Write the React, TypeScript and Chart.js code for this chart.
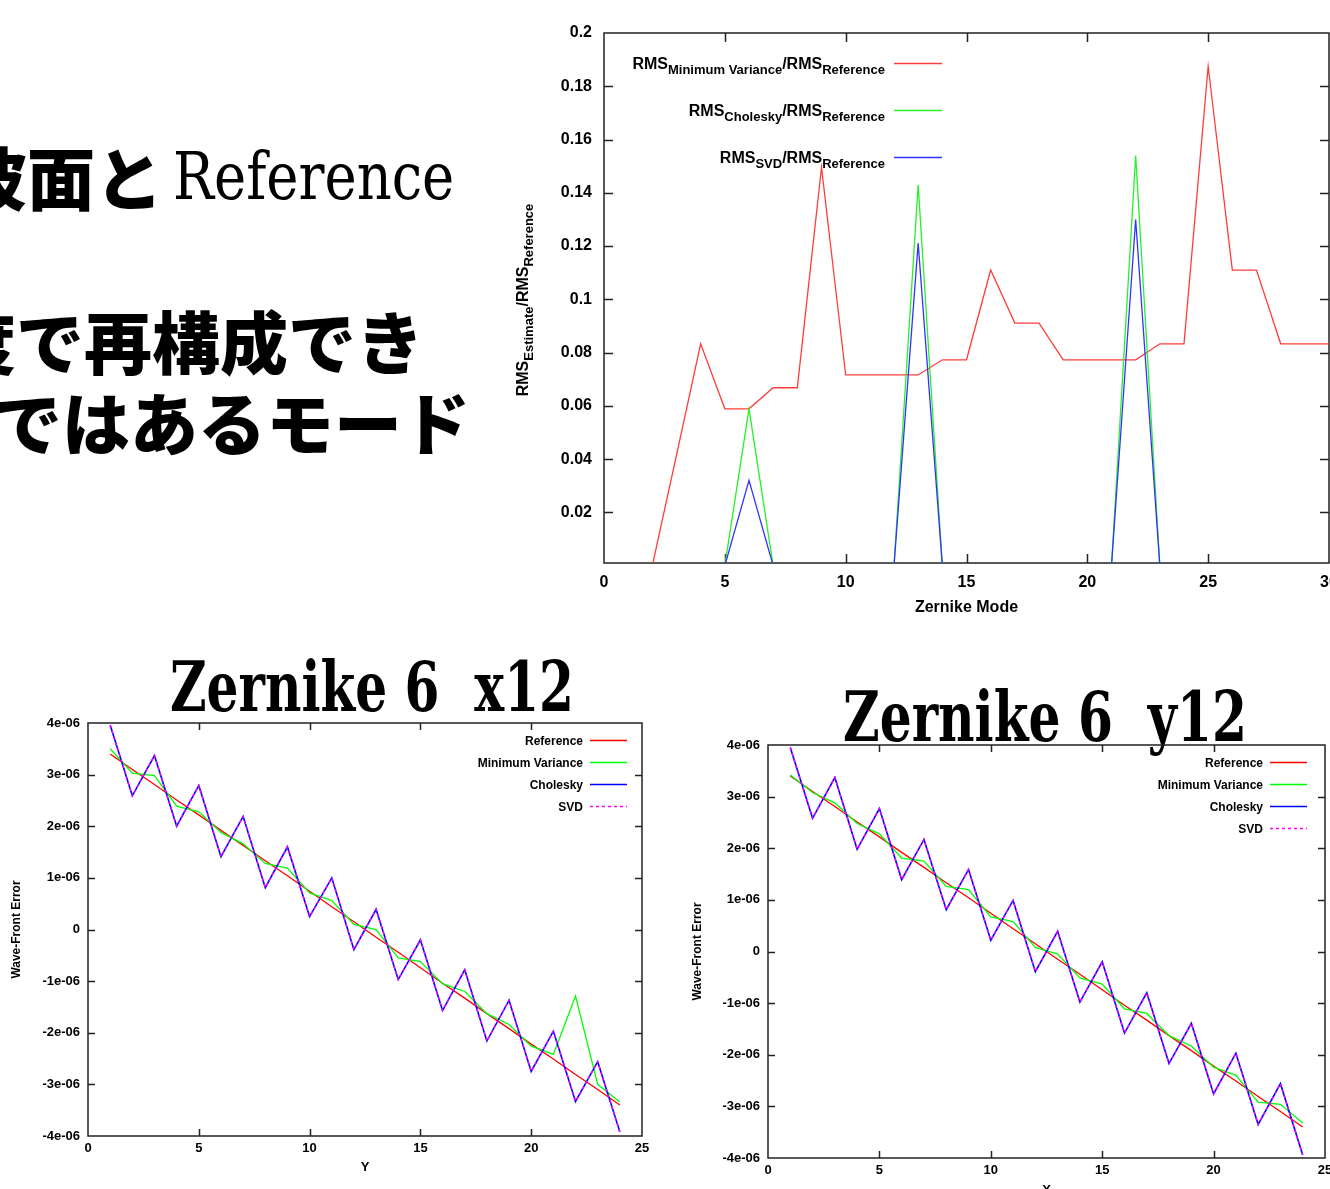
import React, { useEffect, useLayoutEffect, useRef } from 'react';
import { Chart, registerables } from 'chart.js';

Chart.register(...registerables);

// ---------------- DATA ----------------
// Top chart: RMS ratio vs Zernike mode
const zernikeModes = [1, 2, 3, 4, 5, 6, 7, 8, 9, 10, 11, 12, 13, 14, 15, 16, 17, 18, 19, 20, 21, 22, 23, 24, 25, 26, 27, 28, 29, 30];
const rmsMinimumVariance = [0, 0, 0.0415, 0.0833, 0.0589, 0.0589, 0.0668, 0.0668, 0.1496, 0.0716, 0.0716, 0.0716, 0.0716, 0.0773, 0.0773, 0.111, 0.0911, 0.0911, 0.0773, 0.0773, 0.0773, 0.0773, 0.0833, 0.0833, 0.1875, 0.111, 0.111, 0.0833, 0.0833, 0.0833];
const rmsCholesky = [0, 0, 0, 0, 0, 0.0589, 0, 0, 0, 0, 0, 0, 0.1429, 0, 0, 0, 0, 0, 0, 0, 0, 0.154, 0, 0, 0, 0, 0, 0, 0, 0];
const rmsSvd = [0, 0, 0, 0, 0, 0.032, 0, 0, 0, 0, 0, 0, 0.1211, 0, 0, 0, 0, 0, 0, 0, 0, 0.130, 0, 0, 0, 0, 0, 0, 0, 0];
const rmsXTicks = [0, 5, 10, 15, 20, 25, 30];
const rmsXTickLabels = ['0', '5', '10', '15', '20', '25', '30'];
const rmsYTicks = [0.02, 0.04, 0.06, 0.08, 0.1, 0.12, 0.14, 0.16, 0.18, 0.2];
const rmsYTickLabels = ['0.02', '0.04', '0.06', '0.08', '0.1', '0.12', '0.14', '0.16', '0.18', '0.2'];
const rmsSeriesLabels = ['RMS_{Minimum Variance}/RMS_{Reference}', 'RMS_{Cholesky}/RMS_{Reference}', 'RMS_{SVD}/RMS_{Reference}'];

// Bottom charts: wave-front error (values in units of 1e-6)
const MICRO = 1e-6;
const samplePositions = [1, 2, 3, 4, 5, 6, 7, 8, 9, 10, 11, 12, 13, 14, 15, 16, 17, 18, 19, 20, 21, 22, 23, 24];
const x12Reference = [3.40, 3.10, 2.81, 2.51, 2.22, 1.92, 1.63, 1.33, 1.04, 0.74, 0.44, 0.15, -0.15, -0.44, -0.74, -1.04, -1.33, -1.63, -1.92, -2.22, -2.51, -2.81, -3.10, -3.40];
const x12MinimumVariance = [3.50, 3.03, 2.98, 2.39, 2.28, 1.88, 1.66, 1.28, 1.19, 0.71, 0.56, 0.10, 0.00, -0.55, -0.62, -1.05, -1.20, -1.63, -1.84, -2.26, -2.42, -1.29, -3.00, -3.34];
const x12Cholesky = [3.96, 2.59, 3.37, 2.00, 2.79, 1.41, 2.19, 0.81, 1.60, 0.25, 1.00, -0.39, 0.39, -0.97, -0.20, -1.57, -0.78, -2.16, -1.37, -2.75, -1.97, -3.33, -2.56, -3.92];
const x12Svd = [3.96, 2.59, 3.37, 2.00, 2.79, 1.41, 2.19, 0.81, 1.60, 0.25, 1.00, -0.39, 0.39, -0.97, -0.20, -1.57, -0.78, -2.16, -1.37, -2.75, -1.97, -3.33, -2.56, -3.92];
const y12Reference = [3.40, 3.10, 2.81, 2.51, 2.22, 1.92, 1.63, 1.33, 1.04, 0.74, 0.44, 0.15, -0.15, -0.44, -0.74, -1.04, -1.33, -1.63, -1.92, -2.22, -2.51, -2.81, -3.10, -3.40];
const y12MinimumVariance = [3.42, 3.08, 2.88, 2.48, 2.28, 1.81, 1.75, 1.26, 1.20, 0.67, 0.58, 0.08, -0.05, -0.51, -0.63, -1.11, -1.20, -1.63, -1.83, -2.24, -2.40, -2.92, -2.96, -3.32];
const y12Cholesky = [3.95, 2.58, 3.37, 1.98, 2.77, 1.39, 2.17, 0.81, 1.59, 0.22, 0.99, -0.39, 0.39, -0.98, -0.20, -1.58, -0.80, -2.17, -1.39, -2.76, -1.97, -3.35, -2.56, -3.94];
const y12Svd = [3.95, 2.58, 3.37, 1.98, 2.77, 1.39, 2.17, 0.81, 1.59, 0.22, 0.99, -0.39, 0.39, -0.98, -0.20, -1.58, -0.80, -2.17, -1.39, -2.76, -1.97, -3.35, -2.56, -3.94];
const waveXTicks = [0, 5, 10, 15, 20, 25];
const waveXTickLabels = ['0', '5', '10', '15', '20', '25'];
const waveYTicks = [-4, -3, -2, -1, 0, 1, 2, 3, 4];
const waveYTickLabels = ['-4e-06', '-3e-06', '-2e-06', '-1e-06', '0', '1e-06', '2e-06', '3e-06', '4e-06'];
const waveSeriesLabels = ['Reference', 'Minimum Variance', 'Cholesky', 'SVD'];

// ---------------- HELPERS ----------------
const FONT = '"Liberation Sans", Arial, Helvetica, sans-serif';
type Seg = { t: string; sub: boolean };

function parseEnhanced(s: string): Seg[] {
  const segs: Seg[] = [];
  const re = /_\{([^}]*)\}/g;
  let last = 0;
  let m: RegExpExecArray | null;
  while ((m = re.exec(s))) {
    if (m.index > last) segs.push({ t: s.slice(last, m.index), sub: false });
    segs.push({ t: m[1], sub: true });
    last = re.lastIndex;
  }
  if (last < s.length) segs.push({ t: s.slice(last), sub: false });
  return segs;
}

function segsWidth(ctx: CanvasRenderingContext2D, segs: Seg[], mainFont: string, subFont: string) {
  let w = 0;
  for (const s of segs) {
    ctx.font = s.sub ? subFont : mainFont;
    w += ctx.measureText(s.t).width;
  }
  return w;
}

function drawSegs(ctx: CanvasRenderingContext2D, segs: Seg[], x: number, y: number, mainFont: string, subFont: string, subShift: number) {
  let cx = x;
  for (const s of segs) {
    ctx.font = s.sub ? subFont : mainFont;
    ctx.fillText(s.t, cx, s.sub ? y + subShift : y);
    cx += ctx.measureText(s.t).width;
  }
}

const gnuplotFrame = {
  id: 'gnuplotFrame',
  beforeDatasetsDraw(chart: any, _a: any, o: any) {
    const { ctx, chartArea: a } = chart;
    const xs = chart.scales.x;
    const ys = chart.scales.y;
    ctx.save();
    ctx.strokeStyle = o.color;
    ctx.lineWidth = o.lineWidth;
    ctx.beginPath();
    xs.ticks.forEach((t: any) => {
      const px = Math.round(xs.getPixelForValue(t.value)) + 0.5;
      if (px <= a.left + 1 || px >= a.right - 1) return;
      ctx.moveTo(px, a.bottom);
      ctx.lineTo(px, a.bottom - o.tickLen);
      ctx.moveTo(px, a.top);
      ctx.lineTo(px, a.top + o.tickLen);
    });
    ys.ticks.forEach((t: any) => {
      const py = Math.round(ys.getPixelForValue(t.value)) + 0.5;
      if (py <= a.top + 1 || py >= a.bottom - 1) return;
      ctx.moveTo(a.left, py);
      ctx.lineTo(a.left + o.tickLen, py);
      ctx.moveTo(a.right, py);
      ctx.lineTo(a.right - o.tickLen, py);
    });
    ctx.stroke();
    ctx.strokeRect(a.left, a.top, a.right - a.left, a.bottom - a.top);
    ctx.restore();
  },
};

const gnuplotKey = {
  id: 'gnuplotKey',
  afterDatasetsDraw(chart: any, _a: any, o: any) {
    const { ctx } = chart;
    const mainFont = `bold ${o.mainSize}px ${FONT}`;
    const subFont = `bold ${o.subSize}px ${FONT}`;
    chart.data.datasets.forEach((ds: any, i: number) => {
      const y = o.firstRow + i * o.rowGap;
      const segs = parseEnhanced(ds.label);
      ctx.save();
      ctx.fillStyle = '#000';
      ctx.textAlign = 'left';
      ctx.textBaseline = 'alphabetic';
      const w = segsWidth(ctx, segs, mainFont, subFont);
      drawSegs(ctx, segs, o.textRight - w, y + o.baselineShift, mainFont, subFont, o.subShift);
      ctx.strokeStyle = ds.borderColor;
      ctx.lineWidth = ds.borderWidth;
      ctx.setLineDash(ds.borderDash || []);
      ctx.beginPath();
      ctx.moveTo(o.sampleStart, y + 0.5);
      ctx.lineTo(o.sampleEnd, y + 0.5);
      ctx.stroke();
      ctx.restore();
    });
  },
};

const enhancedYTitle = {
  id: 'enhancedYTitle',
  afterDraw(chart: any, _a: any, o: any) {
    if (!o || !o.text) return;
    const { ctx } = chart;
    const mainFont = `bold ${o.mainSize}px ${FONT}`;
    const subFont = `bold ${o.subSize}px ${FONT}`;
    const segs = parseEnhanced(o.text);
    ctx.save();
    ctx.translate(o.x, o.y);
    ctx.rotate(-Math.PI / 2);
    ctx.fillStyle = '#000';
    ctx.textAlign = 'left';
    ctx.textBaseline = 'alphabetic';
    const w = segsWidth(ctx, segs, mainFont, subFont);
    drawSegs(ctx, segs, -w / 2, 0, mainFont, subFont, o.subShift);
    ctx.restore();
  },
};

const pts = (xs: number[], ys: number[], k = 1) => xs.map((x, i) => ({ x, y: ys[i] * k }));

function lineDs(label: string, data: any[], color: string, order: number, width = 1.3, dash?: number[]) {
  return {
    label,
    data,
    borderColor: color,
    backgroundColor: color,
    borderWidth: width,
    borderDash: dash,
    pointRadius: 0,
    tension: 0,
    fill: false,
    order,
    clip: 0,
  };
}

function fixHeight(h: number) {
  return (s: any) => {
    s.height = h;
    s.paddingLeft = 0;
    s.paddingRight = 0;
  };
}

function fixWidth(w: number) {
  return (s: any) => {
    s.width = w;
    s.paddingTop = 0;
    s.paddingBottom = 0;
  };
}

function ChartCanvas({ config, left, top, width, height }: { config: any; left: number; top: number; width: number; height: number }) {
  const ref = useRef<HTMLCanvasElement>(null);
  useEffect(() => {
    const chart = new Chart(ref.current as HTMLCanvasElement, config);
    return () => chart.destroy();
  }, []);
  return (
    <canvas
      ref={ref}
      width={width}
      height={height}
      style={{ position: 'absolute', left, top, width, height }}
    />
  );
}

function FitText({ text, left, top, width, style }: { text: string; left: number; top: number; width: number; style: React.CSSProperties }) {
  const ref = useRef<HTMLDivElement>(null);
  useLayoutEffect(() => {
    const el = ref.current as HTMLDivElement;
    const fit = () => {
      el.style.transform = 'none';
      const w = el.offsetWidth;
      if (w > 0) el.style.transform = `scaleX(${width / w})`;
    };
    fit();
    const f = (document as any).fonts;
    if (f && f.ready) f.ready.then(fit);
  }, []);
  return (
    <div
      ref={ref}
      style={{ position: 'absolute', left, top, whiteSpace: 'pre', transformOrigin: '0 0', lineHeight: 1, color: '#000', ...style }}
    >
      {text}
    </div>
  );
}

// ---------------- CHART CONFIGS ----------------
function rmsConfig() {
  return {
    type: 'line',
    data: {
      datasets: [
        lineDs(rmsSeriesLabels[0], pts(zernikeModes, rmsMinimumVariance), 'rgb(255,60,60)', 2),
        lineDs(rmsSeriesLabels[1], pts(zernikeModes, rmsCholesky), 'rgb(40,240,40)', 1),
        lineDs(rmsSeriesLabels[2], pts(zernikeModes, rmsSvd), 'rgb(50,50,255)', 0),
      ],
    },
    options: {
      animation: false,
      responsive: false,
      devicePixelRatio: 1,
      events: [],
      layout: { autoPadding: false, padding: { top: 33, right: 1, left: 0, bottom: 0 } },
      scales: {
        x: {
          type: 'linear',
          min: 0,
          max: 30,
          afterBuildTicks: (s: any) => { s.ticks = rmsXTicks.map((v) => ({ value: v })); },
          afterFit: fixHeight(77),
          grid: { display: false, drawTicks: false },
          border: { display: false },
          ticks: {
            padding: 10,
            color: '#000',
            autoSkip: false,
            maxRotation: 0,
            font: { size: 16, weight: 'bold', family: FONT },
            callback: (_v: any, i: number) => rmsXTickLabels[i],
          },
          title: { display: true, text: 'Zernike Mode', color: '#000', font: { size: 16, weight: 'bold', family: FONT }, padding: { top: 0, bottom: 23 } },
        },
        y: {
          type: 'linear',
          min: 0.001,
          max: 0.2,
          afterBuildTicks: (s: any) => { s.ticks = rmsYTicks.map((v) => ({ value: v })); },
          afterFit: fixWidth(104),
          grid: { display: false, drawTicks: false },
          border: { display: false },
          ticks: {
            padding: 12,
            color: '#000',
            autoSkip: false,
            font: { size: 16, weight: 'bold', family: FONT },
            callback: (_v: any, i: number) => rmsYTickLabels[i],
          },
        },
      },
      plugins: {
        legend: { display: false },
        tooltip: { enabled: false },
        gnuplotFrame: { color: '#222', lineWidth: 1.5, tickLen: 9 },
        gnuplotKey: { textRight: 385, sampleStart: 394, sampleEnd: 442, firstRow: 63, rowGap: 47, baselineShift: 6, mainSize: 16, subSize: 13, subShift: 5 },
        enhancedYTitle: { text: 'RMS_{Estimate}/RMS_{Reference}', x: 28, y: 300, mainSize: 16, subSize: 13, subShift: 5 },
      },
    },
    plugins: [gnuplotFrame, gnuplotKey, enhancedYTitle],
  };
}

function waveConfig(ref: number[], mv: number[], chol: number[], svd: number[], xTitle: string, padTop: number, padRight: number, xHeight: number, keyFirstRow: number, yTitlePad: number, xTitlePad: number) {
  return {
    type: 'line',
    data: {
      datasets: [
        lineDs(waveSeriesLabels[0], pts(samplePositions, ref, MICRO), '#ff0000', 3),
        lineDs(waveSeriesLabels[1], pts(samplePositions, mv, MICRO), '#00ff00', 2),
        lineDs(waveSeriesLabels[2], pts(samplePositions, chol, MICRO), '#0000ff', 1, 1.6),
        lineDs(waveSeriesLabels[3], pts(samplePositions, svd, MICRO), '#ff00ff', 0, 1.4, [3, 3]),
      ],
    },
    options: {
      animation: false,
      responsive: false,
      devicePixelRatio: 1,
      events: [],
      layout: { autoPadding: false, padding: { top: padTop, right: padRight, left: 0, bottom: 0 } },
      scales: {
        x: {
          type: 'linear',
          min: 0,
          max: 25,
          afterBuildTicks: (s: any) => { s.ticks = waveXTicks.map((v) => ({ value: v })); },
          afterFit: fixHeight(xHeight),
          grid: { display: false, drawTicks: false },
          border: { display: false },
          ticks: {
            padding: 5,
            color: '#000',
            autoSkip: false,
            maxRotation: 0,
            font: { size: 13, weight: 'bold', family: FONT },
            callback: (_v: any, i: number) => waveXTickLabels[i],
          },
          title: { display: true, text: xTitle, color: '#000', font: { size: 13, weight: 'bold', family: FONT }, padding: { top: 0, bottom: xTitlePad } },
        },
        y: {
          type: 'linear',
          min: -4 * MICRO,
          max: 4 * MICRO,
          afterBuildTicks: (s: any) => { s.ticks = waveYTicks.map((v) => ({ value: v * MICRO })); },
          afterFit: fixWidth(88),
          grid: { display: false, drawTicks: false },
          border: { display: false },
          ticks: {
            padding: 8,
            color: '#000',
            autoSkip: false,
            font: { size: 13, weight: 'bold', family: FONT },
            callback: (_v: any, i: number) => waveYTickLabels[i],
          },
          title: { display: true, text: 'Wave-Front Error', color: '#000', font: { size: 12, weight: 'bold', family: FONT }, padding: { top: yTitlePad, bottom: 0 } },
        },
      },
      plugins: {
        legend: { display: false },
        tooltip: { enabled: false },
        gnuplotFrame: { color: '#222', lineWidth: 1.5, tickLen: 7 },
        gnuplotKey: { textRight: 583, sampleStart: 590, sampleEnd: 627, firstRow: keyFirstRow, rowGap: 22, baselineShift: 4.5, mainSize: 12, subSize: 10, subShift: 4 },
      },
    },
    plugins: [gnuplotFrame, gnuplotKey],
  };
}

// ---------------- APP ----------------
const jpFont: React.CSSProperties = { fontFamily: '"Noto Sans CJK JP", "Noto Sans CJK SC", sans-serif', fontWeight: 900, fontSize: 68, lineHeight: 1, position: 'absolute', whiteSpace: 'pre', color: '#000' };
const serifTitle: React.CSSProperties = { fontFamily: '"DejaVu Serif", "Liberation Serif", serif', fontWeight: 'bold', fontSize: 70 };
const serifRef: React.CSSProperties = { fontFamily: '"DejaVu Serif", "Liberation Serif", serif', fontWeight: 'normal', fontSize: 66 };

export default function App() {
  return (
    <div style={{ position: 'absolute', left: 0, top: 0, width: 1330, height: 1189, overflow: 'hidden', background: '#fff' }}>
      <div style={{ ...jpFont, left: -41, top: 142 }}>波面と</div>
      <FitText text="Reference" left={173} top={144} width={281} style={serifRef} />
      <div style={{ ...jpFont, left: -52, top: 306 }}>度で再構成でき</div>
      <div style={{ ...jpFont, left: -6, top: 387 }}>ではあるモード</div>

      <ChartCanvas config={rmsConfig()} left={500} top={0} width={830} height={640} />

      <FitText text="Zernike 6  x12" left={170} top={652} width={404} style={serifTitle} />
      <ChartCanvas
        config={waveConfig(x12Reference, x12MinimumVariance, x12Cholesky, x12Svd, 'Y', 23, 18, 53, 40, 9, 14)}
        left={0}
        top={700}
        width={660}
        height={489}
      />

      <FitText text="Zernike 6  y12" left={843} top={682} width={404} style={serifTitle} />
      <ChartCanvas
        config={waveConfig(y12Reference, y12MinimumVariance, y12Cholesky, y12Svd, 'X', 25, 5, 62, 42, 10, 22)}
        left={680}
        top={720}
        width={650}
        height={500}
      />
    </div>
  );
}
